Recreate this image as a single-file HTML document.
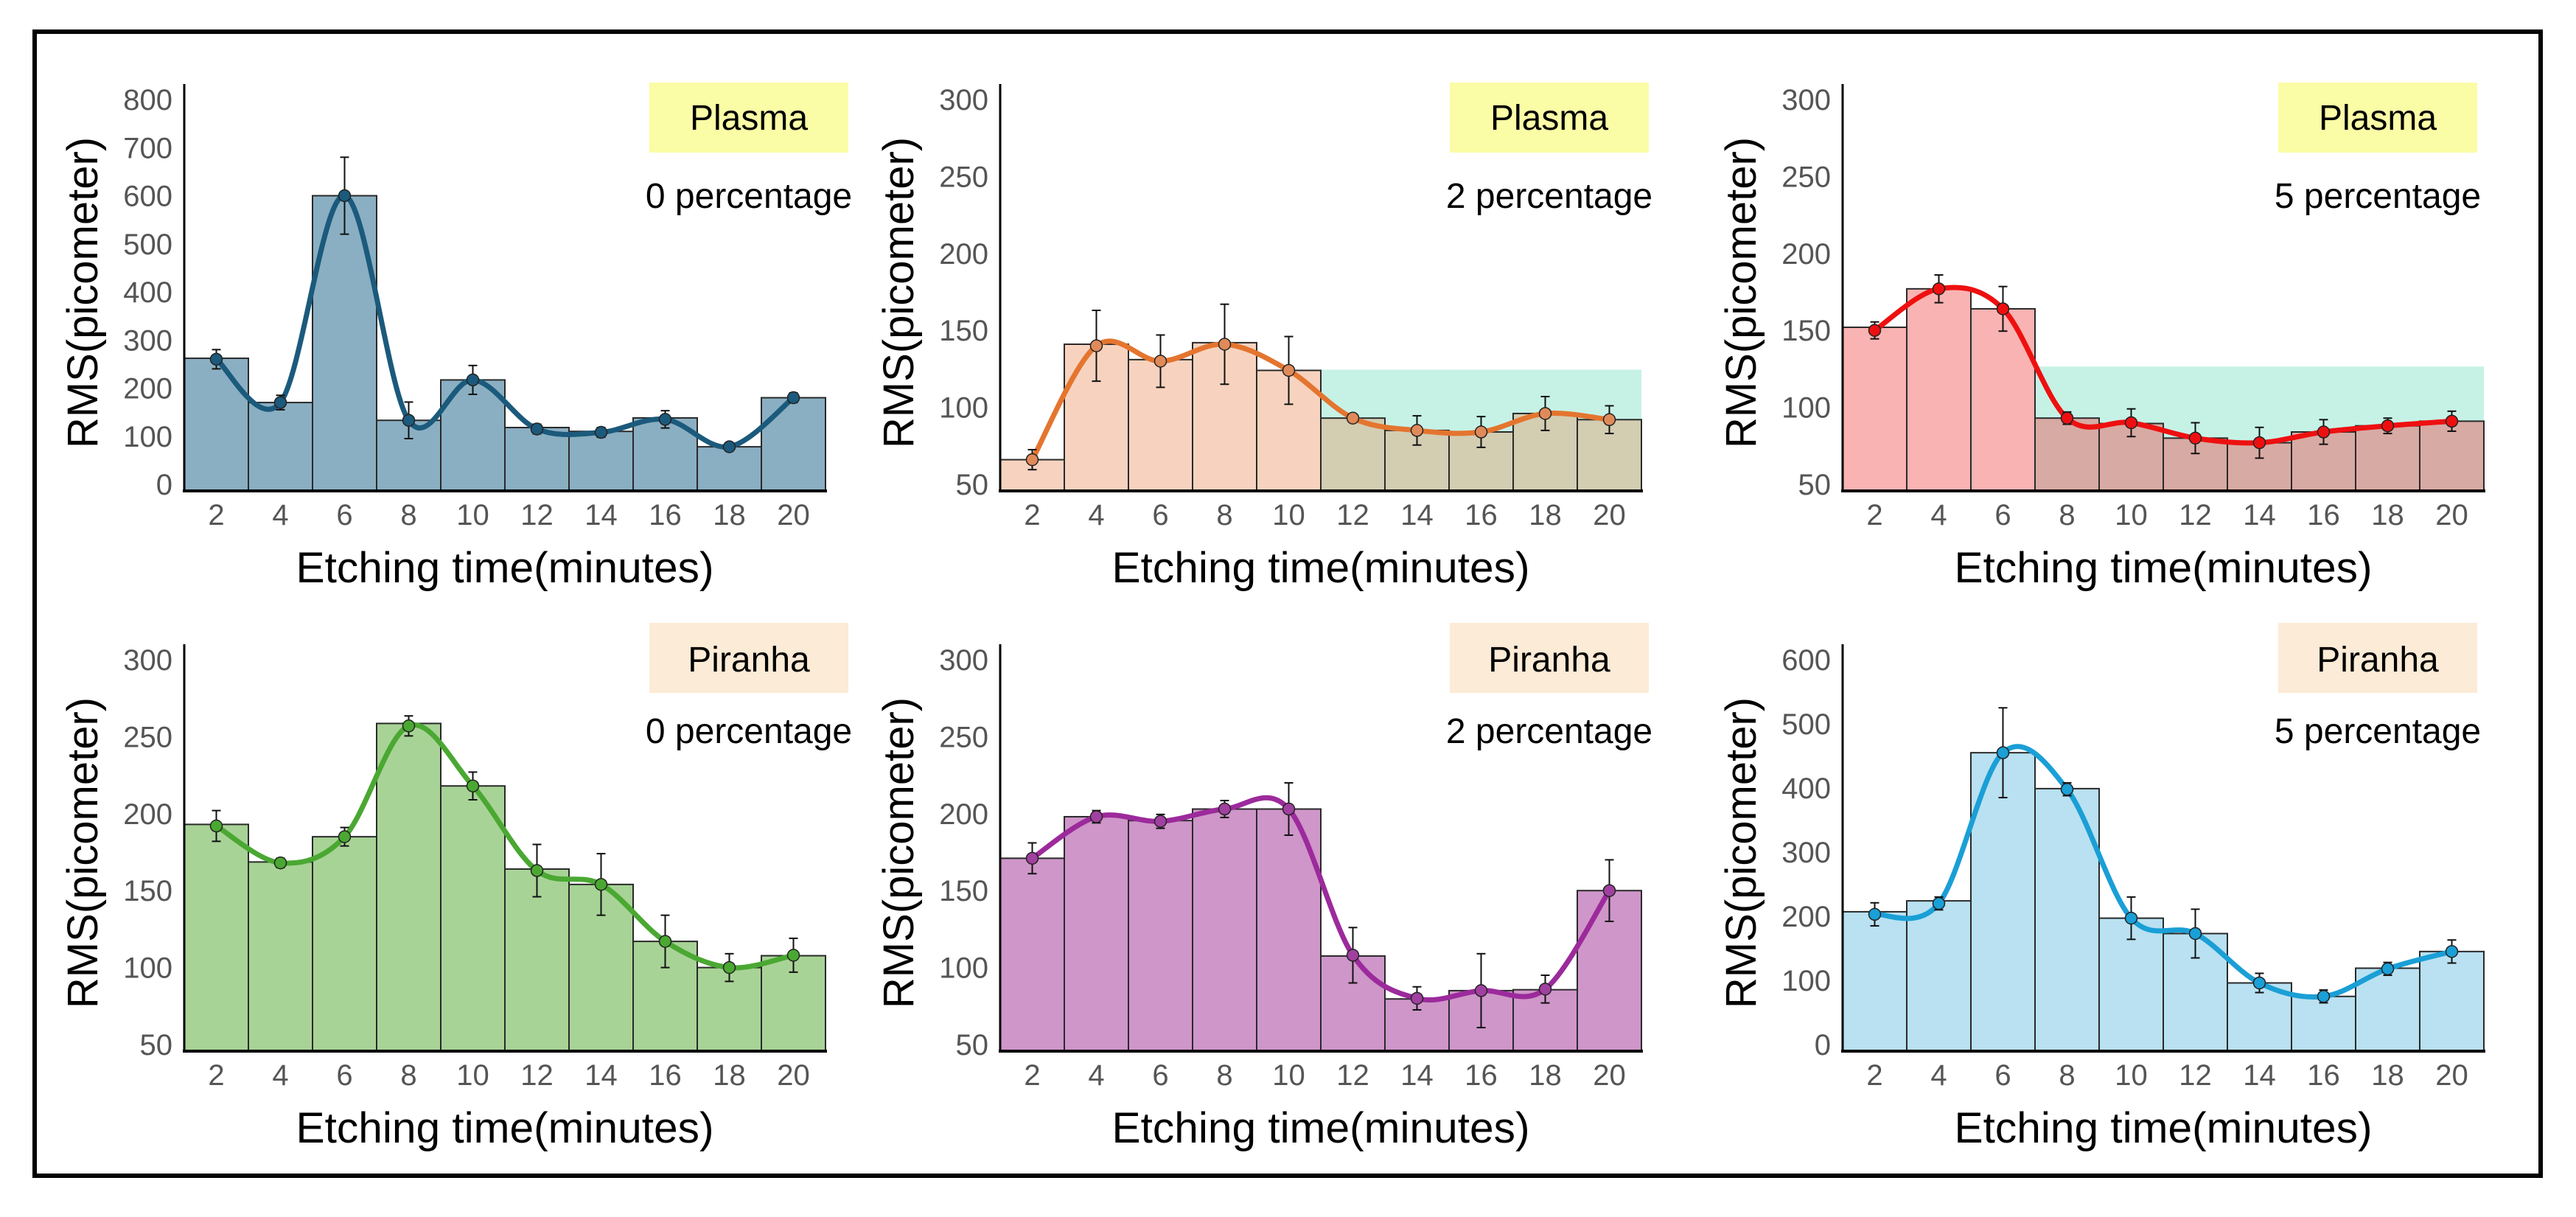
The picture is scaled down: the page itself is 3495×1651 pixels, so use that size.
<!DOCTYPE html>
<html><head><meta charset="utf-8">
<style>
html,body{margin:0;padding:0;background:#fff;}
svg{display:block;font-family:"Liberation Sans",Arial,sans-serif;}
</style></head>
<body>
<svg id="fig" width="3495" height="1651" viewBox="0 0 3495 1651" xmlns="http://www.w3.org/2000/svg">
<rect x="0" y="0" width="3495" height="1651" fill="#fff"/>
<rect x="47" y="43" width="3400" height="1552" fill="none" stroke="#000" stroke-width="6"/>
</svg>
<script>
const categories = [2,4,6,8,10,12,14,16,18,20];
const p1Values = [262,170,600,133,217,118,110,138,78,180];
const p1Points = [260,170,600,133,217,115,108,135,78,180];
const p1Errors = [20,15,80,38,30,10,10,18,5,10];
const p1Ticks = [0,100,200,300,400,500,600,700,800];
const p2Values = [66,141,131,142,124,93,85,84,96,92];
const p2Points = [66,140,130,141,124,93,85,84,96,92];
const p2Errors = [6.5,23,17,26,22,2,9.5,10,11,9];
const p3Values = [152,177,164,93,89.5,80,77,84,88,91];
const p3Points = [150,177,164,93,90,80,77,84,88,91];
const p3Errors = [5.5,9,14.5,4,9,10,10,8,5,6.5];
const p4Values = [193,168.6,185,258.6,218,164,154,117,100,107.7];
const p4Points = [192,168,185,257,218,163,154,117,100,108];
const p4Errors = [10,3,6,6.5,9,17,20,17,9,11];
const p5Values = [171,198,195.5,203,203,107.5,79.6,85,85.6,150];
const p5Points = [171,198,195,203,203,108,80,85,86,150];
const p5Errors = [10,4,4.5,5.5,17,18,7.5,24,9,20];
const p6Values = [207,224,455,399,197,173,96,75,119,145];
const p6Points = [203,220,455,398,197,173,96,75,118,145];
const p6Errors = [18,10,70,10,33,38,15,10,10,18];
const ticks50 = [50,100,150,200,250,300];
const ticks600 = [0,100,200,300,400,500,600];
const bandTop2 = 124.5, bandTop3 = 126.5;

const NS = "http://www.w3.org/2000/svg";
const svg = document.getElementById('fig');
function mk(tag, attrs, parent){
  const e = document.createElementNS(NS, tag);
  for (const k in attrs) e.setAttribute(k, attrs[k]);
  (parent||svg).appendChild(e);
  return e;
}

const panels = [
  {id:'p1', ax:250, row:0, values:p1Values, points:p1Points, errors:p1Errors, ticks:p1Ticks, bar:'#8aafc2', line:'#1b5a7c', mfill:'#1b5a7c', label:'Plasma', box:'#fbfca6', pct:'0 percentage'},
  {id:'p2', ax:1357, row:0, values:p2Values, points:p2Points, errors:p2Errors, ticks:ticks50, bar:'#f7d3bf', bar2:'#d3cdb2', split:5, band:bandTop2, line:'#e4752f', mfill:'#e08a5a', label:'Plasma', box:'#fbfca6', pct:'2 percentage'},
  {id:'p3', ax:2500, row:0, values:p3Values, points:p3Points, errors:p3Errors, ticks:ticks50, bar:'#f9b3b3', bar2:'#d8aaa4', split:3, band:bandTop3, line:'#ee1010', mfill:'#ee1010', label:'Plasma', box:'#fbfca6', pct:'5 percentage'},
  {id:'p4', ax:250, row:1, values:p4Values, points:p4Points, errors:p4Errors, ticks:ticks50, bar:'#a8d396', line:'#4aa832', mfill:'#4aa832', label:'Piranha', box:'#fcebd6', pct:'0 percentage'},
  {id:'p5', ax:1357, row:1, values:p5Values, points:p5Points, errors:p5Errors, ticks:ticks50, bar:'#cf96c9', line:'#9c2a9c', mfill:'#a040a0', label:'Piranha', box:'#fcebd6', pct:'2 percentage'},
  {id:'p6', ax:2500, row:1, values:p6Values, points:p6Points, errors:p6Errors, ticks:ticks600, bar:'#b9e1f1', line:'#1a9fd6', mfill:'#1a9fd6', label:'Piranha', box:'#fcebd6', pct:'5 percentage'}
];

panels.forEach(p => {
  const off = p.row ? 760 : 0;
  const tTop = 135 + off, tBot = 657 + off, axisTop = 114 + off, axisBot = 666 + off;
  const vmin = p.ticks[0], vmax = p.ticks[p.ticks.length-1];
  const y = v => tBot - (v - vmin) / (vmax - vmin) * (tBot - tTop);
  const bw = 87;
  const x = i => p.ax + bw * i + bw / 2;
  const g = mk('g', {});
  
  

  // background band
  if (p.band !== undefined) {
    const b = mk('rect', {x: p.ax + bw * p.split, y: y(p.band), width: bw * (10 - p.split), height: axisBot - y(p.band), fill: '#c6f2e6'}, g);
    
    
  }
  // bars
  p.values.forEach((v, i) => {
    const fill = (p.split !== undefined && i >= p.split) ? p.bar2 : p.bar;
    const r = mk('rect', {x: p.ax + bw * i, y: y(v), width: bw, height: axisBot - y(v), fill: fill, stroke: '#2a2a2a', 'stroke-width': 2}, g);
    
    
  });
  // axes
  const ya = mk('line', {x1: p.ax, y1: axisTop, x2: p.ax, y2: axisBot, stroke: '#000', 'stroke-width': 3}, g);
  
  
  const xa = mk('line', {x1: p.ax - 2, y1: axisBot, x2: p.ax + bw * 10 + 2, y2: axisBot, stroke: '#000', 'stroke-width': 4}, g);
  
  
  // y ticks
  p.ticks.forEach(t => {
    const tx = mk('text', {x: p.ax - 16, y: y(t) + 14, 'text-anchor': 'end', 'font-size': 40, fill: '#555'}, g);
    tx.textContent = t;
    
    
  });
  // x ticks
  categories.forEach((c, i) => {
    const tx = mk('text', {x: x(i), y: 712 + off, 'text-anchor': 'middle', 'font-size': 40, fill: '#555'}, g);
    tx.textContent = c;
    
    
  });
  // smooth curve (Catmull-Rom)
  const pts = p.points.map((v, i) => [x(i), y(v)]);
  let d = 'M' + pts[0][0] + ',' + pts[0][1];
  for (let i = 0; i < pts.length - 1; i++) {
    const p0 = pts[Math.max(0, i - 1)], p1 = pts[i], p2 = pts[i + 1], p3 = pts[Math.min(pts.length - 1, i + 2)];
    const c1x = p1[0] + (p2[0] - p0[0]) / 6, c1y = p1[1] + (p2[1] - p0[1]) / 6;
    const c2x = p2[0] - (p3[0] - p1[0]) / 6, c2y = p2[1] - (p3[1] - p1[1]) / 6;
    d += ' C' + c1x + ',' + c1y + ' ' + c2x + ',' + c2y + ' ' + p2[0] + ',' + p2[1];
  }
  const ln = mk('path', {d: d, fill: 'none', stroke: p.line, 'stroke-width': 7, 'stroke-linecap': 'round'}, g);
  
  
  // error bars + markers
  p.points.forEach((v, i) => {
    const e = p.errors[i];
    const eg = mk('g', {stroke: '#111', 'stroke-width': 2}, g);
    
    
    mk('line', {x1: x(i), y1: y(v + e), x2: x(i), y2: y(v - e)}, eg);
    mk('line', {x1: x(i) - 6, y1: y(v + e), x2: x(i) + 6, y2: y(v + e)}, eg);
    mk('line', {x1: x(i) - 6, y1: y(v - e), x2: x(i) + 6, y2: y(v - e)}, eg);
    const c = mk('circle', {cx: x(i), cy: y(v), r: 8, fill: p.mfill, stroke: '#222', 'stroke-width': 1.5}, g);
    
    
  });
  // legend box
  const boxX = p.ax + (p.ax === 250 ? 631 : p.ax === 1357 ? 610 : 591);
  const lb = mk('rect', {x: boxX, y: p.row ? 845 : 112, width: 270, height: 95, fill: p.box}, g);
  
  
  const lt = mk('text', {x: boxX + 135, y: p.row ? 911 : 176, 'text-anchor': 'middle', 'font-size': 48, fill: '#000'}, g);
  lt.textContent = p.label;
  
  
  const pt = mk('text', {x: boxX + 135, y: p.row ? 1008 : 282, 'text-anchor': 'middle', 'font-size': 48, fill: '#000'}, g);
  pt.textContent = p.pct;
  
  
  // axis titles
  const yt = mk('text', {x: 0, y: 0, 'text-anchor': 'middle', 'font-size': 58, fill: '#000', transform: 'translate(' + (p.ax - 118) + ',' + (397 + off) + ') rotate(-90)'}, g);
  yt.textContent = 'RMS(picometer)';
  
  
  const xt = mk('text', {x: p.ax + 435, y: 790 + off, 'text-anchor': 'middle', 'font-size': 58, fill: '#000', textLength: 567, lengthAdjust: 'spacingAndGlyphs'}, g);
  xt.textContent = 'Etching time(minutes)';
  
  
});
</script>
</body></html>
